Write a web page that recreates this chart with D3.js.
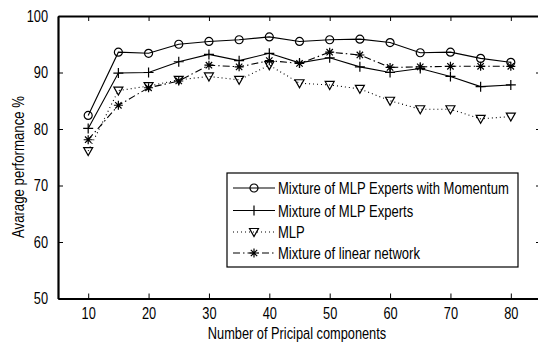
<!DOCTYPE html>
<html>
<head>
<meta charset="utf-8">
<script src="https://cdn.jsdelivr.net/npm/d3@7"></script>
<style>
    body { margin: 0; background: #fff; }
    svg text { font-family: "Liberation Sans", Arial, sans-serif; fill: #000; }
</style>
</head>
<body>
<svg id="chart" width="538" height="343"></svg>
<script>
// number of principal components
var components = [10, 15, 20, 25, 30, 35, 40, 45, 50, 55, 60, 65, 70, 75, 80];

// average performance % per model
var momentumValues = [82.4, 93.6, 93.4, 95.0, 95.5, 95.8, 96.3, 95.5, 95.8, 95.9, 95.3, 93.5, 93.6, 92.5, 91.8];
var expertsValues  = [80.1, 89.9, 90.0, 91.9, 93.2, 92.1, 93.4, 91.7, 92.6, 91.0, 90.0, 90.7, 89.3, 87.5, 87.8];
var mlpValues      = [76.1, 86.8, 87.6, 88.7, 89.3, 88.7, 91.3, 88.1, 87.8, 87.1, 85.0, 83.5, 83.5, 81.8, 82.2];
var linearValues   = [78.1, 84.2, 87.3, 88.5, 91.3, 91.0, 92.1, 91.6, 93.6, 93.1, 90.9, 91.0, 91.1, 91.1, 91.1];

var seriesNames = ["Mixture of MLP Experts with Momentum", "Mixture of MLP Experts", "MLP", "Mixture of linear network"];

var xTicks = [10, 20, 30, 40, 50, 60, 70, 80];
var yTicks = [50, 60, 70, 80, 90, 100];

var plot = { left: 58, right: 541, top: 16, bottom: 298.5 };
var tickLen = 5;
var squeeze = 0.8; // no narrow font installed, so squeeze Liberation Sans

var svg = d3.select('#chart');

var x = d3.scaleLinear().domain([5, 85]).range([plot.left, plot.right]);
var y = d3.scaleLinear().domain([50, 100]).range([plot.bottom, plot.top]);

var series = [
    { name: seriesNames[0], values: momentumValues, dash: null,        marker: 'circle' },
    { name: seriesNames[1], values: expertsValues,  dash: null,        marker: 'plus' },
    { name: seriesNames[2], values: mlpValues,      dash: '1,3',       marker: 'triangle' },
    { name: seriesNames[3], values: linearValues,   dash: '7,3,1.5,3', marker: 'star' }
];

// marker shapes, drawn around 0,0
function markerPath(type) {
    if (type == 'circle') {
        return 'M4,0A4,4 0 1,1 -4,0A4,4 0 1,1 4,0Z';
    } else if (type == 'plus') {
        return 'M-5,0H5M0,-5V5';
    } else if (type == 'triangle') {
        return 'M-4.5,-3.5H4.5L0,4.5Z';
    }
    // asterisk
    return 'M-4.5,0H4.5M0,-4.5V4.5M-3.2,-3.2L3.2,3.2M-3.2,3.2L3.2,-3.2';
}

// horizontal squeeze along the text direction
function narrow(sel) {
    sel.each(function() {
        var t = d3.select(this);
        var xv = +t.attr('x') || 0;
        t.attr('x', xv / squeeze)
            .attr('transform', (t.attr('transform') || '') + ' scale(' + squeeze + ',1)');
    });
}

// axes: bottom/left with labels, top/right mirrored, all ticks inside
svg.append('g')
    .attr('transform', 'translate(0,' + plot.bottom + ')')
    .call(d3.axisBottom(x).tickValues(xTicks).tickSizeInner(-tickLen).tickSizeOuter(0).tickPadding(9))
    .call(g => g.select('.domain').attr('stroke-width', 2.2));

svg.append('g')
    .attr('transform', 'translate(0,' + plot.top + ')')
    .call(d3.axisTop(x).tickValues(xTicks).tickSizeInner(-tickLen).tickSizeOuter(0).tickFormat(''))
    .call(g => g.select('.domain').attr('stroke-width', 2.2));

svg.append('g')
    .attr('transform', 'translate(' + plot.left + ',0)')
    .call(d3.axisLeft(y).tickValues(yTicks).tickSizeInner(-tickLen).tickSizeOuter(0).tickPadding(10))
    .call(g => g.select('.domain').attr('stroke-width', 2.2));

svg.append('g')
    .attr('transform', 'translate(' + plot.right + ',0)')
    .call(d3.axisRight(y).tickValues(yTicks).tickSizeInner(-tickLen).tickSizeOuter(0).tickFormat(''))
    .call(g => g.select('.domain').attr('stroke-width', 2.2));

svg.selectAll('.tick text').style('font-size', '16px').call(narrow);
svg.selectAll('.tick line').attr('stroke-width', 1);

// axis titles
svg.append('text')
    .attr('x', 297)
    .attr('y', 339)
    .attr('text-anchor', 'middle')
    .style('font-size', '16px')
    .text('Number of Pricipal components')
    .call(narrow);

svg.append('text')
    .attr('transform', 'translate(24,167) rotate(-90)')
    .attr('text-anchor', 'middle')
    .style('font-size', '16.5px')
    .text('Avarage performance %')
    .call(narrow);

// lines + markers
var line = d3.line()
    .x((d, i) => x(components[i]))
    .y(d => y(d));

var groups = svg.append('g')
    .selectAll('g')
    .data(series)
    .enter()
    .append('g');

groups.append('path')
    .attr('d', d => line(d.values))
    .attr('fill', 'none')
    .attr('stroke', '#000')
    .attr('stroke-width', 1.1)
    .attr('stroke-dasharray', d => d.dash);

groups.each(function(s) {
    d3.select(this).selectAll('path.marker')
        .data(s.values)
        .enter()
        .append('path')
        .attr('class', 'marker')
        .attr('transform', (d, i) => 'translate(' + x(components[i]) + ',' + y(d) + ')')
        .attr('d', markerPath(s.marker))
        .attr('fill', 'none')
        .attr('stroke', '#000')
        .attr('stroke-width', 1.2);
});

// legend
var legend = svg.append('g');
var rowY = [188, 210.5, 232, 253];

legend.append('rect')
    .attr('x', 227)
    .attr('y', 173)
    .attr('width', 291)
    .attr('height', 94)
    .attr('fill', '#fff')
    .attr('stroke', '#000')
    .attr('stroke-width', 1.2);

var rows = legend.selectAll('g.row')
    .data(series)
    .enter()
    .append('g')
    .attr('class', 'row')
    .attr('transform', (d, i) => 'translate(0,' + rowY[i] + ')');

rows.append('line')
    .attr('x1', 233)
    .attr('x2', 275)
    .attr('stroke', '#000')
    .attr('stroke-width', 1.1)
    .attr('stroke-dasharray', d => d.dash);

rows.append('path')
    .attr('transform', 'translate(254,0)')
    .attr('d', d => markerPath(d.marker))
    .attr('fill', 'none')
    .attr('stroke', '#000')
    .attr('stroke-width', 1.2);

rows.append('text')
    .attr('x', 278)
    .attr('y', 6)
    .style('font-size', '16.3px')
    .text(d => d.name)
    .call(narrow);
</script>
</body>
</html>
